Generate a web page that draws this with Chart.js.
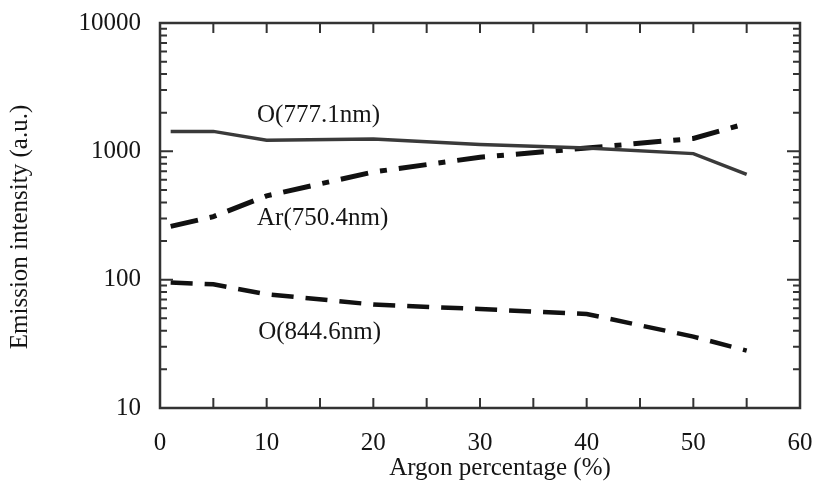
<!DOCTYPE html>
<html>
<head>
<meta charset="utf-8">
<script src="https://cdn.jsdelivr.net/npm/chart.js@4.4.1/dist/chart.umd.min.js"></script>
<style>
  html, body { margin: 0; padding: 0; background: #fff; }
  #wrap { width: 820px; height: 484px; position: relative; }
</style>
</head>
<body>
<div id="wrap"><canvas id="emission"></canvas></div>
<script>
// argon share in the gas mix (%) and the line intensities measured there
const argonPct = [1, 5, 10, 20, 30, 40, 50, 55];
const o777 = [1430, 1430, 1220, 1250, 1130, 1060, 960, 660];
const ar750 = [260, 310, 450, 690, 900, 1060, 1260, 1650];
const o844 = [95, 92, 77, 64, 59, 54, 36, 28];

const yTicks = [10, 100, 1000, 10000];
const xTicks = [0, 10, 20, 30, 40, 50, 60];

const seriesNames = ['O(777.1nm)', 'Ar(750.4nm)', 'O(844.6nm)'];
// where each series name sits, in data units (x %, y intensity)
const namePos = [[9.1, 1900], [9.1, 300], [9.2, 39]];

const serif = '"Liberation Serif", "DejaVu Serif", serif';
const ink = '#151515';

function pts(ys) {
    return argonPct.map((x, i) => ({ x: x, y: ys[i] }));
}

// frame, inward ticks on all four sides, series names and axis titles
const decorations = {
    id: 'decorations',
    afterDatasetsDraw(chart) {
        const ctx = chart.ctx;
        const a = chart.chartArea;
        const xs = chart.scales.x;
        const ys = chart.scales.y;
        ctx.save();
        ctx.strokeStyle = '#333';
        ctx.lineWidth = 2;

        ctx.beginPath();
        for (let v = 5; v < 60; v += 5) {
            const px = xs.getPixelForValue(v);
            ctx.moveTo(px, a.bottom);
            ctx.lineTo(px, a.bottom - 10);
            ctx.moveTo(px, a.top);
            ctx.lineTo(px, a.top + 10);
        }
        for (let d = 10; d < 10000; d *= 10) {
            for (let m = 1; m <= 9; m++) {
                const py = ys.getPixelForValue(d * m);
                const len = m === 1 ? 13 : 7;
                ctx.moveTo(a.left, py);
                ctx.lineTo(a.left + len, py);
                ctx.moveTo(a.right, py);
                ctx.lineTo(a.right - len, py);
            }
        }
        ctx.stroke();

        ctx.lineWidth = 2.5;
        ctx.strokeRect(a.left, a.top, a.right - a.left, a.bottom - a.top);

        ctx.fillStyle = ink;
        ctx.font = '25px ' + serif;
        ctx.textBaseline = 'middle';
        ctx.textAlign = 'left';
        seriesNames.forEach((name, i) => {
            ctx.fillText(name, xs.getPixelForValue(namePos[i][0]), ys.getPixelForValue(namePos[i][1]));
        });

        ctx.textAlign = 'center';
        ctx.fillText('Argon percentage (%)', 500, 468);

        ctx.translate(20, 227);
        ctx.rotate(-Math.PI / 2);
        ctx.fillText('Emission intensity (a.u.)', 0, 0);
        ctx.restore();
    }
};

const ctx = document.getElementById('emission').getContext('2d');
const emissionChart = new Chart(ctx, {
    type: 'line',
    data: {
        datasets: [{
            label: seriesNames[0],
            data: pts(o777),
            borderColor: '#3a3a3a',
            borderWidth: 3.5,
            pointRadius: 0,
            tension: 0,
        }, {
            label: seriesNames[1],
            data: pts(ar750),
            borderColor: '#111',
            borderWidth: 5,
            borderDash: [28, 12, 7, 12],
            pointRadius: 0,
            tension: 0,
        }, {
            label: seriesNames[2],
            data: pts(o844),
            borderColor: '#111',
            borderWidth: 4.5,
            borderDash: [22, 12],
            pointRadius: 0,
            tension: 0,
        }],
    },
    options: {
        responsive: true,
        maintainAspectRatio: false,
        animation: false,
        events: [],
        layout: { padding: { top: 23, right: 20, left: 0, bottom: 0 } },
        plugins: {
            legend: { display: false },
            tooltip: { enabled: false },
        },
        scales: {
            x: {
                type: 'linear',
                min: 0,
                max: 60,
                afterBuildTicks: (scale) => { scale.ticks = xTicks.map(v => ({ value: v })); },
                afterFit: (scale) => {
                    scale.height = 76;
                    scale.paddingLeft = 0;
                    scale.paddingRight = 0;
                },
                grid: { display: false, drawTicks: false },
                border: { display: false },
                ticks: {
                    color: ink,
                    padding: 20,
                    maxRotation: 0,
                    font: { family: serif, size: 25 },
                },
            },
            y: {
                type: 'logarithmic',
                min: 10,
                max: 10000,
                afterBuildTicks: (scale) => { scale.ticks = yTicks.map(v => ({ value: v })); },
                afterFit: (scale) => {
                    scale.width = 160;
                    scale.paddingTop = 0;
                    scale.paddingBottom = 0;
                },
                grid: { display: false, drawTicks: false },
                border: { display: false },
                ticks: {
                    color: ink,
                    padding: 19,
                    font: { family: serif, size: 25 },
                    callback: (v) => String(v),
                },
            },
        },
    },
    plugins: [decorations],
});
</script>
</body>
</html>
